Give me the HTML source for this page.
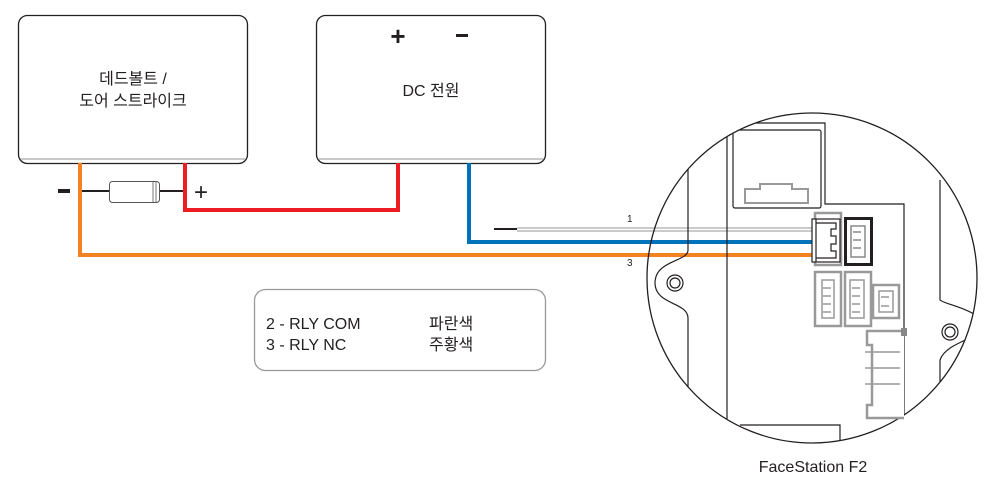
<!DOCTYPE html>
<html><head><meta charset="utf-8"><style>
html,body{margin:0;padding:0;background:#fff;}
svg{display:block;}
text{font-family:"Liberation Sans","Noto Sans CJK KR",sans-serif;fill:#231f20;}
</style></head><body>
<svg width="993" height="497" viewBox="0 0 993 497" xmlns="http://www.w3.org/2000/svg">
<!-- boxes -->
<rect x="18.5" y="15.5" width="229" height="148" rx="9" fill="#fff" stroke="#231f20" stroke-width="1.3"/>
<path d="M21 159 H245" stroke="#c8c8c8" stroke-width="2"/>
<rect x="316.5" y="15.5" width="229" height="148" rx="9" fill="#fff" stroke="#231f20" stroke-width="1.3"/>
<path d="M319 159 H543" stroke="#c8c8c8" stroke-width="2"/>
<text x="133" y="84" font-size="16" text-anchor="middle">데드볼트 /</text>
<text x="133" y="106" font-size="16" text-anchor="middle">도어 스트라이크</text>
<text x="431" y="96" font-size="16" text-anchor="middle">DC 전원</text>
<text x="398" y="45" font-size="26" text-anchor="middle" font-weight="bold">+</text>
<rect x="456" y="34" width="12" height="3" fill="#231f20"/>
<!-- diode -->
<path d="M82 191 H110 M159 191 H183" stroke="#231f20" stroke-width="2"/>
<rect x="109.5" y="181.5" width="50" height="21" rx="3" fill="#fff" stroke="#555" stroke-width="1"/>
<path d="M153 182 V202 M156 182 V202" stroke="#777" stroke-width="1"/>
<rect x="58" y="189" width="12" height="4" fill="#231f20"/>
<text x="201" y="200" font-size="24" text-anchor="middle">+</text>
<!-- wires -->
<path d="M185 163 V210 H398 V163" fill="none" stroke="#ed1c24" stroke-width="4"/>
<path d="M80 163 V255 H815" fill="none" stroke="#f58220" stroke-width="4"/>
<path d="M469 163 V242 H815" fill="none" stroke="#0072bc" stroke-width="4"/>
<path d="M494 229 H517" stroke="#231f20" stroke-width="2"/>
<path d="M517 228 H815 M517 231 H815" stroke="#aaa" stroke-width="1.3"/>
<text x="627" y="222" font-size="10">1</text>
<text x="627" y="266" font-size="10">3</text>
<!-- legend -->
<rect x="254.5" y="289.5" width="291" height="81" rx="11" fill="#fff" stroke="#999" stroke-width="1.3"/>
<text x="266" y="329" font-size="16">2 - RLY COM</text>
<text x="266" y="350" font-size="16">3 - RLY NC</text>
<text x="429" y="329" font-size="16">파란색</text>
<text x="429" y="350" font-size="16">주황색</text>
<!-- device circle -->
<defs><clipPath id="c"><circle cx="812" cy="278" r="165"/></clipPath></defs>
<g clip-path="url(#c)" fill="none" stroke="#231f20" stroke-width="1.2">
<path d="M727 450 V123 H825 V204 H904 V450"/>
<rect x="733" y="130" width="88" height="78" rx="2"/>
<path d="M745 203 V189 H760 V184 H792 V189 H808 V203 Z" stroke="#999" stroke-width="2"/>
<path d="M688 160 V250 C688 262 655 260 655 283 C655 305 688 302 688 318 V450"/>
<path d="M940 180 V300 C945 305 985 310 985 330 C970 340 945 345 940 360 V450"/>
<path d="M740 425 H840 V450"/>
<circle cx="675" cy="283" r="8"/><circle cx="675" cy="283" r="5"/>
<circle cx="950" cy="332" r="8"/><circle cx="950" cy="332" r="5"/>
</g>
<circle cx="812" cy="278" r="165" fill="none" stroke="#231f20" stroke-width="1.3"/>
<!-- connectors -->
<g fill="#fff" stroke="#999" stroke-width="2.5">
<rect x="815" y="213" width="26" height="52"/>
<rect x="815" y="272" width="26" height="54"/>
<rect x="845" y="272" width="26" height="54"/>
<rect x="873" y="285" width="26" height="33"/>
<path d="M904 331 H867 V345 H872 V405 H867 V418 H904"/>
</g>
<g fill="none" stroke="#999" stroke-width="1.5">
<path d="M822 280 H834 V318 H822 Z M850 280 H864 V318 H850 Z M879 291 H893 V312 H879 Z"/>
<path d="M823 288 h8 M823 296 h8 M823 304 h8 M823 312 h8 M852 288 h8 M852 296 h8 M852 304 h8 M852 312 h8 M881 297 h8 M881 306 h8"/>
<path d="M865 352 H900 M865 368 H900 M865 384 H900"/>
</g>
<rect x="901" y="328" width="6" height="8" fill="#888"/>
<rect x="845.5" y="218.5" width="26" height="46" fill="#fff" stroke="#231f20" stroke-width="3"/>
<path d="M851 226 H865 V257 H851 Z M853 232 h8 M853 240 h8 M853 248 h8" fill="none" stroke="#888" stroke-width="1.5"/>
<rect x="812" y="219" width="28" height="43" fill="#fff" stroke="#231f20" stroke-width="1.2"/>
<path d="M816 219 V262 M816 223 H836 V229 H831 V236 H836 V244 H831 V251 H836 V258 H816" fill="none" stroke="#231f20" stroke-width="1.2"/>
<text x="813" y="472" font-size="16" text-anchor="middle">FaceStation F2</text>
</svg>
</body></html>
